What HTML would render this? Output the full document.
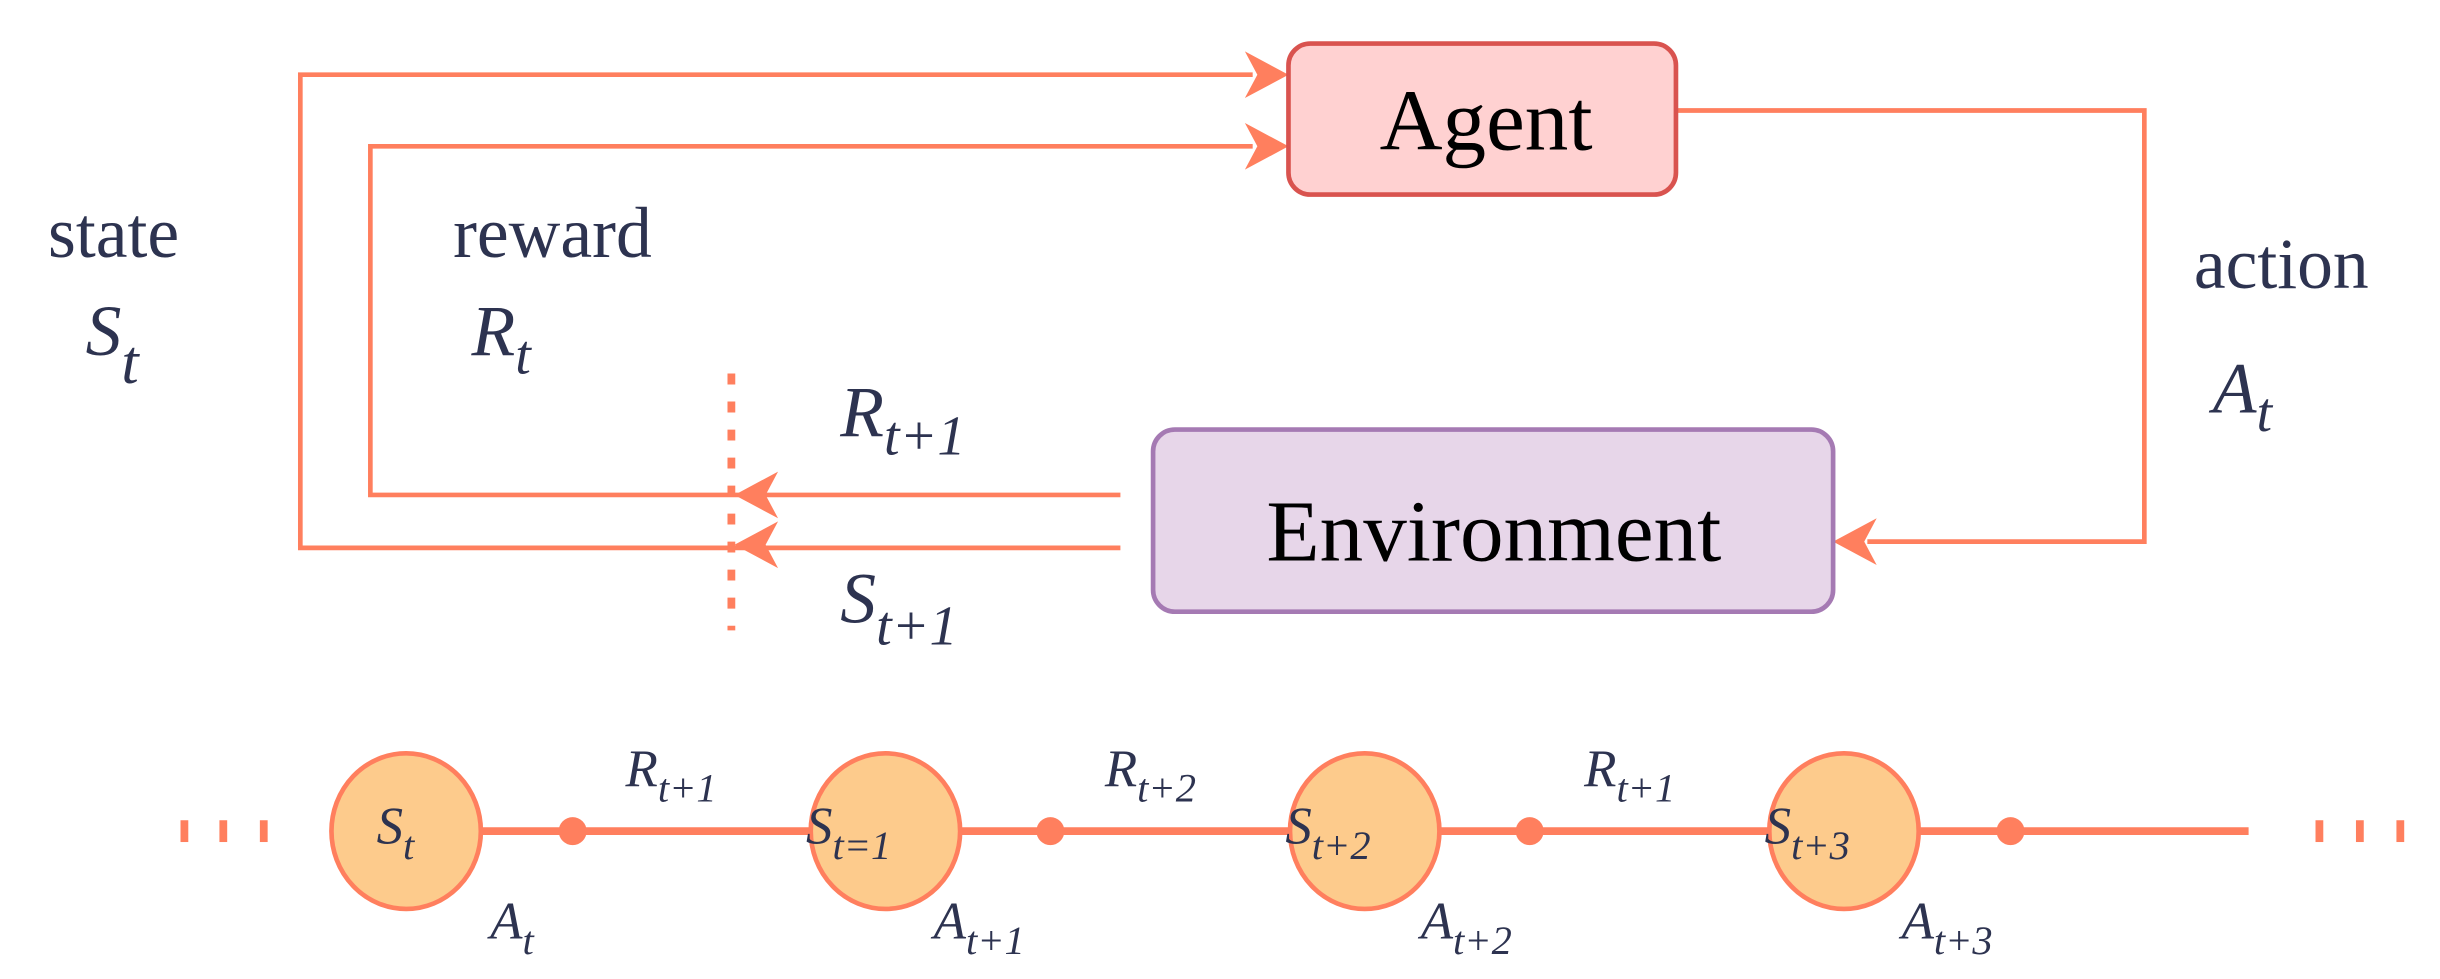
<!DOCTYPE html>
<html><head><meta charset="utf-8"><style>html,body{margin:0;padding:0;background:#fff}svg{display:block}</style></head>
<body>
<svg width="2440" height="979" viewBox="0 0 1568 629" preserveAspectRatio="none" xmlns="http://www.w3.org/2000/svg">
<defs>
<marker id="ah" markerWidth="10" markerHeight="10" refX="9" refY="5" orient="auto" markerUnits="userSpaceOnUse" viewBox="0 0 10 10">
</marker>
</defs>
<g fill="none" stroke="#ff7f5e" stroke-width="3">
<polyline points="805,48 193,48 193,352 720,352"/>
<polyline points="805,94 238,94 238,318 720,318"/>
<polyline points="1077,71 1378,71 1378,348 1200,348"/>
<line x1="470" y1="240" x2="470" y2="405" stroke-dasharray="7,11" stroke-width="5"/>
<line x1="310" y1="534" x2="1445" y2="534" stroke-width="5"/>
</g>
<g fill="#ff7f5e">
<polygon points="828,48 800,33 808,48 800,63"/>
<polygon points="828,94 800,79 808,94 800,109"/>
<polygon points="472,318 500,303 492,318 500,333"/>
<polygon points="472,350 500,335 492,350 500,365"/>
<polygon points="1178,348 1206,333 1198,348 1206,363"/>
<circle cx="368" cy="534" r="9"/><circle cx="675" cy="534" r="9"/><circle cx="983" cy="534" r="9"/><circle cx="1292" cy="534" r="9"/>
<rect x="116" y="527" width="5" height="14"/><rect x="141" y="527" width="5" height="14"/><rect x="167" y="527" width="5" height="14"/>
<rect x="1488" y="527" width="5" height="14"/><rect x="1514" y="527" width="5" height="14"/><rect x="1540" y="527" width="5" height="14"/>
</g>
<rect x="828" y="28" width="249" height="97" rx="14" fill="#ffd1d1" stroke="#d9534f" stroke-width="3"/>
<rect x="741" y="276" width="437" height="117" rx="14" fill="#e7d6e9" stroke="#a57ab3" stroke-width="3"/>
<g fill="#fdcb8c" stroke="#ff7f5e" stroke-width="3">
<ellipse cx="261" cy="534" rx="48" ry="50"/><ellipse cx="569" cy="534" rx="48" ry="50"/><ellipse cx="877" cy="534" rx="48" ry="50"/><ellipse cx="1185" cy="534" rx="48" ry="50"/>
</g>
<g font-family="Liberation Serif, serif" fill="#000">
<text x="955" y="96" font-size="56" text-anchor="middle">Agent</text>
<text x="960" y="360" font-size="56" text-anchor="middle">Environment</text>
</g>
<g font-family="Liberation Serif, serif" fill="#2d3350" font-size="46">
<text x="73" y="165" text-anchor="middle">state</text>
<text x="355" y="165" text-anchor="middle">reward</text>
<text x="1466" y="185" text-anchor="middle">action</text>
<g font-style="italic">
<text x="55" y="228">S<tspan font-size="40" dy="18">t</tspan></text>
<text x="303" y="228">R<tspan font-size="36" dy="12">t</tspan></text>
<text x="540" y="280">R<tspan font-size="36" dy="12">t+1</tspan></text>
<text x="540" y="400">S<tspan font-size="36" dy="14">t+1</tspan></text>
<text x="1422" y="265">A<tspan font-size="36" dy="12">t</tspan></text>
</g>
<g font-style="italic" font-size="34">
<text x="242" y="542">S<tspan font-size="26" dy="10">t</tspan></text>
<text x="518" y="542">S<tspan font-size="26" dy="10">t=1</tspan></text>
<text x="826" y="542">S<tspan font-size="26" dy="10">t+2</tspan></text>
<text x="1134" y="542">S<tspan font-size="26" dy="10">t+3</tspan></text>
<text x="402" y="505">R<tspan font-size="26" dy="10">t+1</tspan></text>
<text x="710" y="505">R<tspan font-size="26" dy="10">t+2</tspan></text>
<text x="1018" y="505">R<tspan font-size="26" dy="10">t+1</tspan></text>
<text x="315" y="603">A<tspan font-size="26" dy="10">t</tspan></text>
<text x="600" y="603">A<tspan font-size="26" dy="10">t+1</tspan></text>
<text x="913" y="603">A<tspan font-size="26" dy="10">t+2</tspan></text>
<text x="1222" y="603">A<tspan font-size="26" dy="10">t+3</tspan></text>
</g>
</g>
</svg>
</body></html>
